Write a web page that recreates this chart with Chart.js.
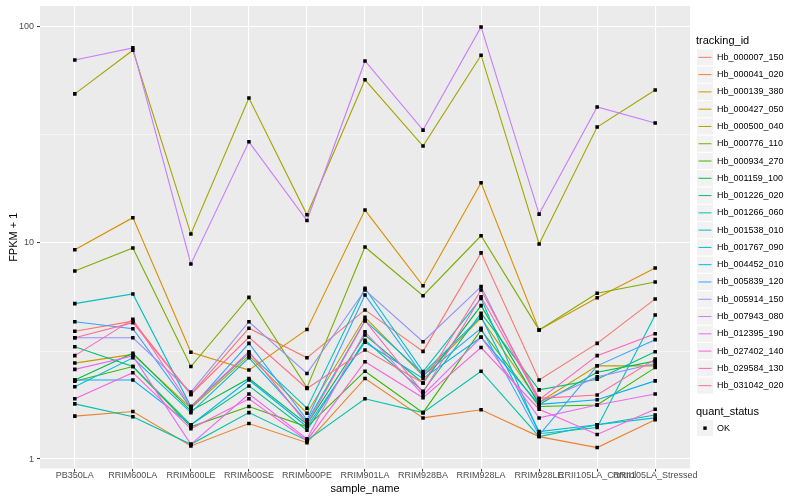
<!DOCTYPE html>
<html><head><meta charset="utf-8">
<script src="https://cdn.jsdelivr.net/npm/chart.js@4/dist/chart.umd.min.js"></script>
<style>html,body{margin:0;padding:0;background:#fff}canvas{display:block}</style>
</head><body>
<canvas id="c" width="800" height="500"></canvas>
<script>
// ---- data ----
const sampleNames = ["PB350LA","RRIM600LA","RRIM600LE","RRIM600SE","RRIM600PE","RRIM901LA","RRIM928BA","RRIM928LA","RRIM928LE","RRII105LA_Control","RRII105LA_Stressed"];
const trackingIds = ["Hb_000007_150","Hb_000041_020","Hb_000139_380","Hb_000427_050","Hb_000500_040","Hb_000776_110","Hb_000934_270","Hb_001159_100","Hb_001226_020","Hb_001266_060","Hb_001538_010","Hb_001767_090","Hb_004452_010","Hb_005839_120","Hb_005914_150","Hb_007943_080","Hb_012395_190","Hb_027402_140","Hb_029584_130","Hb_031042_020"];
const trackingColors = ["#F8766D","#EA8331","#D89000","#C09B00","#A3A500","#7CAE00","#39B600","#00BB4E","#00BF7D","#00C1A3","#00BFC4","#00BAE0","#00B0F6","#35A2FF","#9590FF","#C77CFF","#E76BF3","#FA62DB","#FF62BC","#FF6C91"];

const hb_000007_150 = [3.90, 4.35, 1.99, 4.03, 2.94, 4.90, 3.15, 9.0, 2.32, 3.43, 5.51];
const hb_000041_020 = [1.58, 1.66, 1.15, 1.46, 1.19, 2.36, 1.55, 1.69, 1.27, 1.13, 1.52];
const hb_000139_380 = [9.3, 13.1, 3.12, 2.58, 3.98, 14.2, 6.34, 19.0, 3.96, 5.58, 7.66];
const hb_000427_050 = [2.78, 3.05, 1.72, 3.01, 1.63, 4.53, 2.43, 4.49, 1.83, 2.70, 2.70];
const hb_000500_040 = [49, 78, 11.0, 46.9, 13.5, 56.9, 28.1, 74, 9.9, 34.4, 51.1];
const hb_000776_110 = [7.42, 9.48, 2.68, 5.60, 2.14, 9.58, 5.70, 10.8, 3.96, 5.85, 6.60];
const hb_000934_270 = [2.29, 2.68, 1.41, 1.75, 1.41, 2.55, 1.64, 3.96, 1.75, 1.78, 2.65];
const hb_001159_100 = [2.32, 3.09, 1.67, 2.36, 1.45, 3.75, 2.25, 5.13, 1.79, 2.52, 2.84];
const hb_001226_020 = [3.31, 2.68, 1.44, 2.18, 1.36, 3.55, 2.06, 4.73, 2.09, 2.34, 3.14];
const hb_001266_060 = [1.80, 1.57, 1.17, 1.64, 1.22, 1.90, 1.64, 2.55, 1.27, 1.44, 1.60];
const hb_001538_010 = [5.24, 5.81, 1.75, 3.09, 1.72, 6.17, 2.54, 5.54, 1.31, 1.40, 4.64];
const hb_001767_090 = [2.16, 2.94, 1.64, 2.94, 1.49, 4.37, 2.49, 4.56, 1.34, 1.44, 1.55];
const hb_004452_010 = [2.32, 2.32, 1.44, 2.32, 1.41, 3.47, 2.36, 3.66, 1.79, 1.88, 2.30];
const hb_005839_120 = [4.32, 4.01, 1.72, 3.43, 1.52, 5.74, 2.43, 4.03, 1.29, 2.70, 3.57];
const hb_005914_150 = [3.64, 3.64, 2.04, 4.32, 2.49, 6.06, 3.49, 6.28, 1.83, 2.40, 2.77];
const hb_007943_080 = [70.3, 80, 8.0, 29.4, 12.7, 69.6, 33.3, 100, 13.6, 42.6, 35.9];
const hb_012395_190 = [2.60, 3.00, 1.17, 2.00, 1.24, 3.88, 1.98, 3.66, 1.55, 1.78, 2.00];
const hb_027402_140 = [1.90, 2.51, 1.38, 1.90, 1.22, 2.82, 1.92, 3.28, 1.70, 1.30, 1.70];
const hb_029584_130 = [3.01, 4.43, 1.75, 3.14, 1.45, 4.37, 2.03, 5.64, 1.88, 3.01, 3.80];
const hb_031042_020 = [3.64, 4.28, 1.99, 3.66, 2.12, 3.20, 2.25, 6.06, 1.91, 1.98, 2.90];

const yMajorBreaks = [1, 10, 100];
const yMinorBreaks = [3.1623, 31.623];
const quantStatus = ["OK"];

const seriesValues = [hb_000007_150,hb_000041_020,hb_000139_380,hb_000427_050,hb_000500_040,hb_000776_110,hb_000934_270,hb_001159_100,hb_001226_020,hb_001266_060,hb_001538_010,hb_001767_090,hb_004452_010,hb_005839_120,hb_005914_150,hb_007943_080,hb_012395_190,hb_027402_140,hb_029584_130,hb_031042_020];

// ---- chart ----
const FONT = '"Liberation Sans", Arial, sans-serif';
const datasets = trackingIds.map((id, k) => ({
  type: 'line', label: id,
  data: seriesValues[k].map((v, i) => ({x: i, y: v})),
  borderColor: trackingColors[k], backgroundColor: trackingColors[k],
  borderWidth: 1.1, pointRadius: 0, fill: false, tension: 0,
  order: trackingIds.length - k
}));
const allPoints = [];
seriesValues.forEach(arr => arr.forEach((v, i) => allPoints.push({x: i, y: v})));
datasets.push({type: 'scatter', label: quantStatus[0], data: allPoints, pointStyle: 'rect',
  pointRadius: 2.5, backgroundColor: '#000', borderWidth: 0, order: 0});

const bgPlugin = {
  id: 'panelBg',
  beforeDraw(chart) {
    const {ctx, chartArea: a} = chart;
    ctx.save(); ctx.fillStyle = '#EBEBEB';
    ctx.fillRect(a.left, a.top, a.right - a.left, a.bottom - a.top);
    ctx.restore();
  }
};
const legendPlugin = {
  id: 'ggLegend',
  afterDraw(chart) {
    const ctx = chart.ctx;
    ctx.save();
    ctx.textBaseline = 'middle'; ctx.textAlign = 'left';
    ctx.fillStyle = '#000'; ctx.font = '11px ' + FONT;
    const x0 = 696, step = 17.28;
    ctx.fillText('tracking_id', x0, 40.5);
    trackingIds.forEach((id, k) => {
      const top = 48.7 + k * step;
      ctx.fillStyle = '#F2F2F2';
      ctx.fillRect(x0 + 1, top + 0.6, 16, step - 1.2);
      ctx.strokeStyle = trackingColors[k]; ctx.lineWidth = 1;
      ctx.beginPath(); ctx.moveTo(x0 + 2.5, top + step / 2); ctx.lineTo(x0 + 15.5, top + step / 2); ctx.stroke();
      ctx.fillStyle = '#000'; ctx.font = '9px ' + FONT;
      ctx.fillText(id, x0 + 21, top + step / 2);
    });
    ctx.font = '11px ' + FONT; ctx.fillStyle = '#000';
    ctx.fillText('quant_status', x0, 411.5);
    const t2 = 419.5;
    ctx.fillStyle = '#F2F2F2'; ctx.fillRect(x0 + 1, t2 + 0.6, 16, step - 1.2);
    ctx.fillStyle = '#000'; ctx.fillRect(x0 + 9 - 1.7, t2 + step / 2 - 1.7, 3.4, 3.4);
    ctx.font = '9px ' + FONT;
    ctx.fillText(quantStatus[0], x0 + 21, t2 + step / 2);
    ctx.restore();
  }
};

new Chart(document.getElementById('c'), {
  data: {datasets},
  options: {
    responsive: false, animation: false, devicePixelRatio: 1,
    layout: {padding: {left: 0, right: 110, top: 6, bottom: 0}},
    plugins: {legend: {display: false}, tooltip: {enabled: false}},
    scales: {
      x: {
        type: 'linear', min: -0.6, max: 10.6, position: 'bottom',
        afterBuildTicks: ax => { ax.ticks = sampleNames.map((_, i) => ({value: i})); },
        afterFit: s => { s.height = 31.5; s.paddingLeft = 0; s.paddingRight = 0; },
        ticks: {callback: v => sampleNames[v], autoSkip: false, maxRotation: 0, minRotation: 0,
          font: {family: FONT, size: 9}, color: '#4D4D4D', padding: -1},
        grid: {color: '#FFFFFF', lineWidth: 1.1, drawTicks: true, tickLength: 3, tickColor: '#333333', tickWidth: 1},
        border: {display: false},
        title: {display: true, text: 'sample_name', font: {family: FONT, size: 11}, color: '#000', padding: {top: 0, bottom: 4}}
      },
      y: {
        type: 'logarithmic', min: 0.904, max: 125, position: 'left',
        afterBuildTicks: ax => {
          ax.ticks = [...yMajorBreaks, ...yMinorBreaks].sort((a, b) => a - b).map(v => ({value: v}));
        },
        afterFit: s => { s.width = 40; s.paddingTop = 0; s.paddingBottom = 0; },
        ticks: {callback: v => (yMajorBreaks.includes(v) ? String(v) : ''), autoSkip: false,
          font: {family: FONT, size: 9}, color: '#4D4D4D', padding: 3},
        grid: {
          color: '#FFFFFF',
          lineWidth: c => (c.tick && yMajorBreaks.includes(c.tick.value) ? 1.1 : 0.5),
          drawTicks: true, tickLength: 3, tickWidth: 1,
          tickColor: c => (c.tick && yMajorBreaks.includes(c.tick.value) ? '#333333' : 'rgba(0,0,0,0)')
        },
        border: {display: false},
        title: {display: true, text: 'FPKM + 1', font: {family: FONT, size: 11}, color: '#000', padding: {top: 7, bottom: 0}}
      }
    }
  },
  plugins: [bgPlugin, legendPlugin]
});
</script>
</body></html>
